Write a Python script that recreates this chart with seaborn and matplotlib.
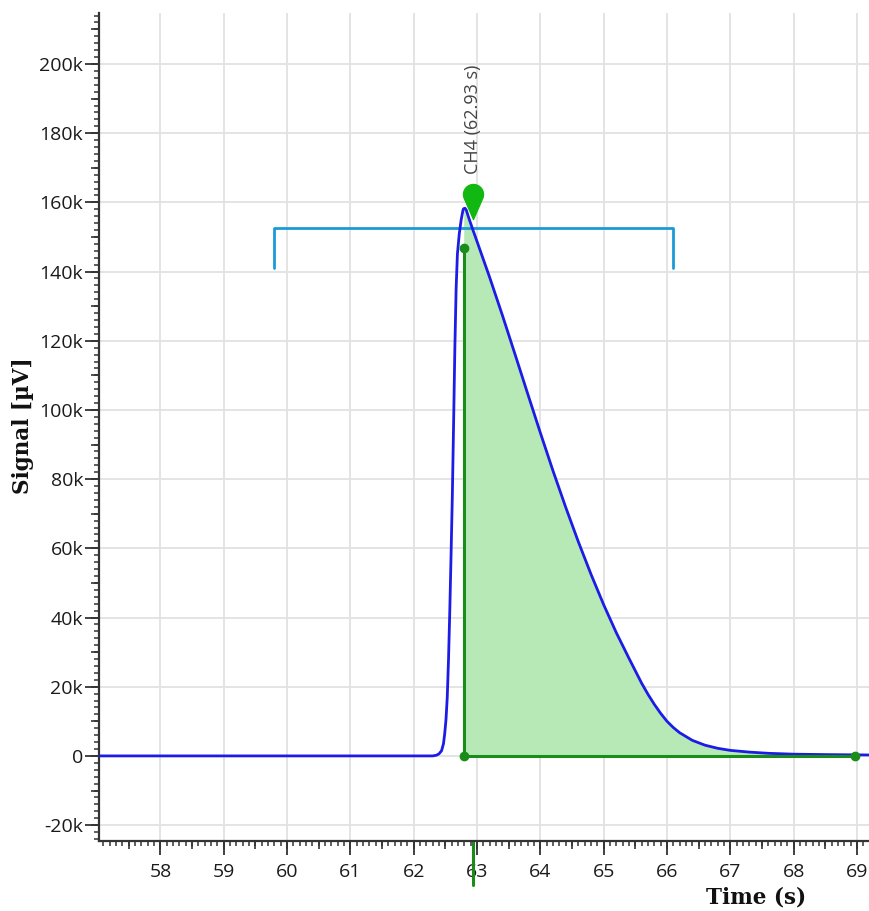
import numpy as np
import pandas as pd
import matplotlib
matplotlib.use("Agg")
import matplotlib.pyplot as plt
import seaborn as sns
from matplotlib.path import Path
from matplotlib.ticker import MultipleLocator, FuncFormatter, NullFormatter

# chromatogram trace (time in s, signal in uV)
time_s = [57.00, 62.30, 62.36, 62.40, 62.44, 62.47, 62.49, 62.51, 62.53, 62.55,
          62.57, 62.59, 62.61, 62.63, 62.65, 62.67, 62.69, 62.72, 62.75, 62.78,
          62.79, 62.81, 62.83, 62.87, 62.93, 63.00, 63.20, 63.40, 63.60, 63.80,
          64.00, 64.20, 64.40, 64.60, 64.80, 65.00, 65.20, 65.40, 65.60, 65.70,
          65.80, 65.90, 66.00, 66.10, 66.20, 66.40, 66.60, 66.80, 67.00, 67.30,
          67.60, 68.00, 68.50, 69.00, 69.30]
signal_uv = [0, 0, 200, 600, 1500, 3500, 6500, 10500, 17000, 28000,
             42000, 58000, 75000, 96000, 118000, 135000, 145000, 151000, 155000, 157900,
             158200, 158300, 157800, 155500, 152300, 148700, 138300, 127400, 116100, 104700,
             93400, 82400, 71900, 61900, 52500, 43700, 35600, 28200, 21000, 17800,
             14900, 12300, 10000, 8200, 6700, 4500, 3100, 2200, 1600, 1100,
             750, 500, 380, 300, 250]

# integrated peak
peak_name = "CH4"
peak_time = 62.93
peak_start = 62.79
peak_end = 68.97
start_marker_signal = 146800
pin_signal = 162300

# peak search window bracket
window_start = 59.79
window_end = 66.09
window_top = 152500
window_bottom = 141000

x_limits = (57.03, 69.19)
y_limits = (-24500, 214600)

df = pd.DataFrame({"Time (s)": time_s, "Signal": signal_uv})

sns.set_style("whitegrid")
plt.rcParams["font.family"] = ["Open Sans", "DejaVu Sans"]

fig = plt.figure(figsize=(8.69, 9.11), dpi=100)
ax = fig.add_axes([0.1139, 0.0772, 0.8861, 0.9080])

blue = "#1c1ce6"
green_line = "#1a8c1a"
green_fill = "#b7e9b7"
pin_green = "#12b812"
bracket_blue = "#1b9ad8"

# filled peak area
area = df[(df["Time (s)"] >= peak_start) & (df["Time (s)"] <= peak_end)]
ax.fill_between(area["Time (s)"], 0, area["Signal"], color=green_fill, lw=0, zorder=2)

sns.lineplot(data=df, x="Time (s)", y="Signal", sort=False, estimator=None,
             color=blue, lw=2.0, ax=ax, zorder=4)

# baseline + start line
ax.plot([peak_start, peak_end], [0, 0], color=green_line, lw=2.2, zorder=5)
ax.plot([peak_start, peak_start], [0, start_marker_signal], color=green_line, lw=2.2, zorder=5)
ax.plot([peak_start, peak_end, peak_start], [0, 0, start_marker_signal], ls="none",
        marker="o", ms=6, color=green_line, zorder=6)

# window bracket
ax.plot([window_start, window_start, window_end, window_end],
        [window_bottom, window_top, window_top, window_bottom],
        color=bracket_blue, lw=2.0, zorder=3)

# teardrop pin
phi = np.degrees(np.arccos(1 / 2.5))
ang = np.radians(np.linspace(-90 + phi, 270 - phi, 60))
verts = np.column_stack([np.cos(ang), np.sin(ang)])
verts = np.vstack([verts, [[0, -2.5], [np.cos(ang[0]), np.sin(ang[0])]]])
codes = [Path.MOVETO] + [Path.LINETO] * (len(verts) - 2) + [Path.CLOSEPOLY]
pin = Path(verts, codes)
ax.plot([peak_time], [pin_signal], marker=pin, ms=36, color=pin_green,
        mec=pin_green, ls="none", zorder=7)
ax.annotate(f"{peak_name} ({peak_time:.2f} s)", xy=(peak_time, pin_signal),
            xytext=(0, 14.5), textcoords="offset points", rotation=90,
            ha="center", va="bottom", fontsize=13, color="#444444")

# green retention-time tick under the axis
ax.axvline(peak_time, ymin=-0.054, ymax=0, color=green_line, lw=2.2, clip_on=False)

ax.set_xlim(*x_limits)
ax.set_ylim(*y_limits)

ax.xaxis.set_major_locator(MultipleLocator(1))
ax.xaxis.set_minor_locator(MultipleLocator(0.1))
ax.yaxis.set_major_locator(MultipleLocator(20000))
ax.yaxis.set_minor_locator(MultipleLocator(2000))
ax.yaxis.set_major_formatter(FuncFormatter(lambda v, p: "0" if v == 0 else f"{v/1000:.0f}k"))

tick_col = "#333333"
ax.tick_params(which="major", length=10, width=1.3, color=tick_col, labelsize=14,
               labelcolor="#1a1a1a")
ax.tick_params(axis="x", which="major", pad=6)
ax.tick_params(axis="y", which="major", pad=1.5)
ax.tick_params(which="minor", length=3.6, width=1.1, color=tick_col)
ax.tick_params(bottom=True, left=True, which="both", direction="out")

# medium ticks
secx = ax.secondary_xaxis("bottom")
secx.xaxis.set_major_locator(MultipleLocator(0.5))
secx.xaxis.set_major_formatter(NullFormatter())
secx.tick_params(length=5.8, width=1.2, color=tick_col)
secx.spines["bottom"].set_visible(False)
secy = ax.secondary_yaxis("left")
secy.yaxis.set_major_locator(MultipleLocator(10000))
secy.yaxis.set_major_formatter(NullFormatter())
secy.tick_params(length=5.8, width=1.2, color=tick_col)
secy.spines["left"].set_visible(False)

ax.grid(True, which="major", color="#e2e2e2", lw=1.3)
ax.set_axisbelow(True)
for s in ["top", "right"]:
    ax.spines[s].set_visible(False)
for s in ["left", "bottom"]:
    ax.spines[s].set_color(tick_col)
    ax.spines[s].set_linewidth(1.6)

label_font = dict(family="DejaVu Serif", weight="bold", size=15.5, color="#111111")
ax.set_xlabel("Time (s)", **label_font)
ax.set_ylabel("Signal [µV]", **label_font)
ax.xaxis.set_label_coords(0.853, -0.056)
ax.yaxis.set_label_coords(-0.084, 0.502)

fig.savefig("out.png", dpi=100, facecolor="white")
